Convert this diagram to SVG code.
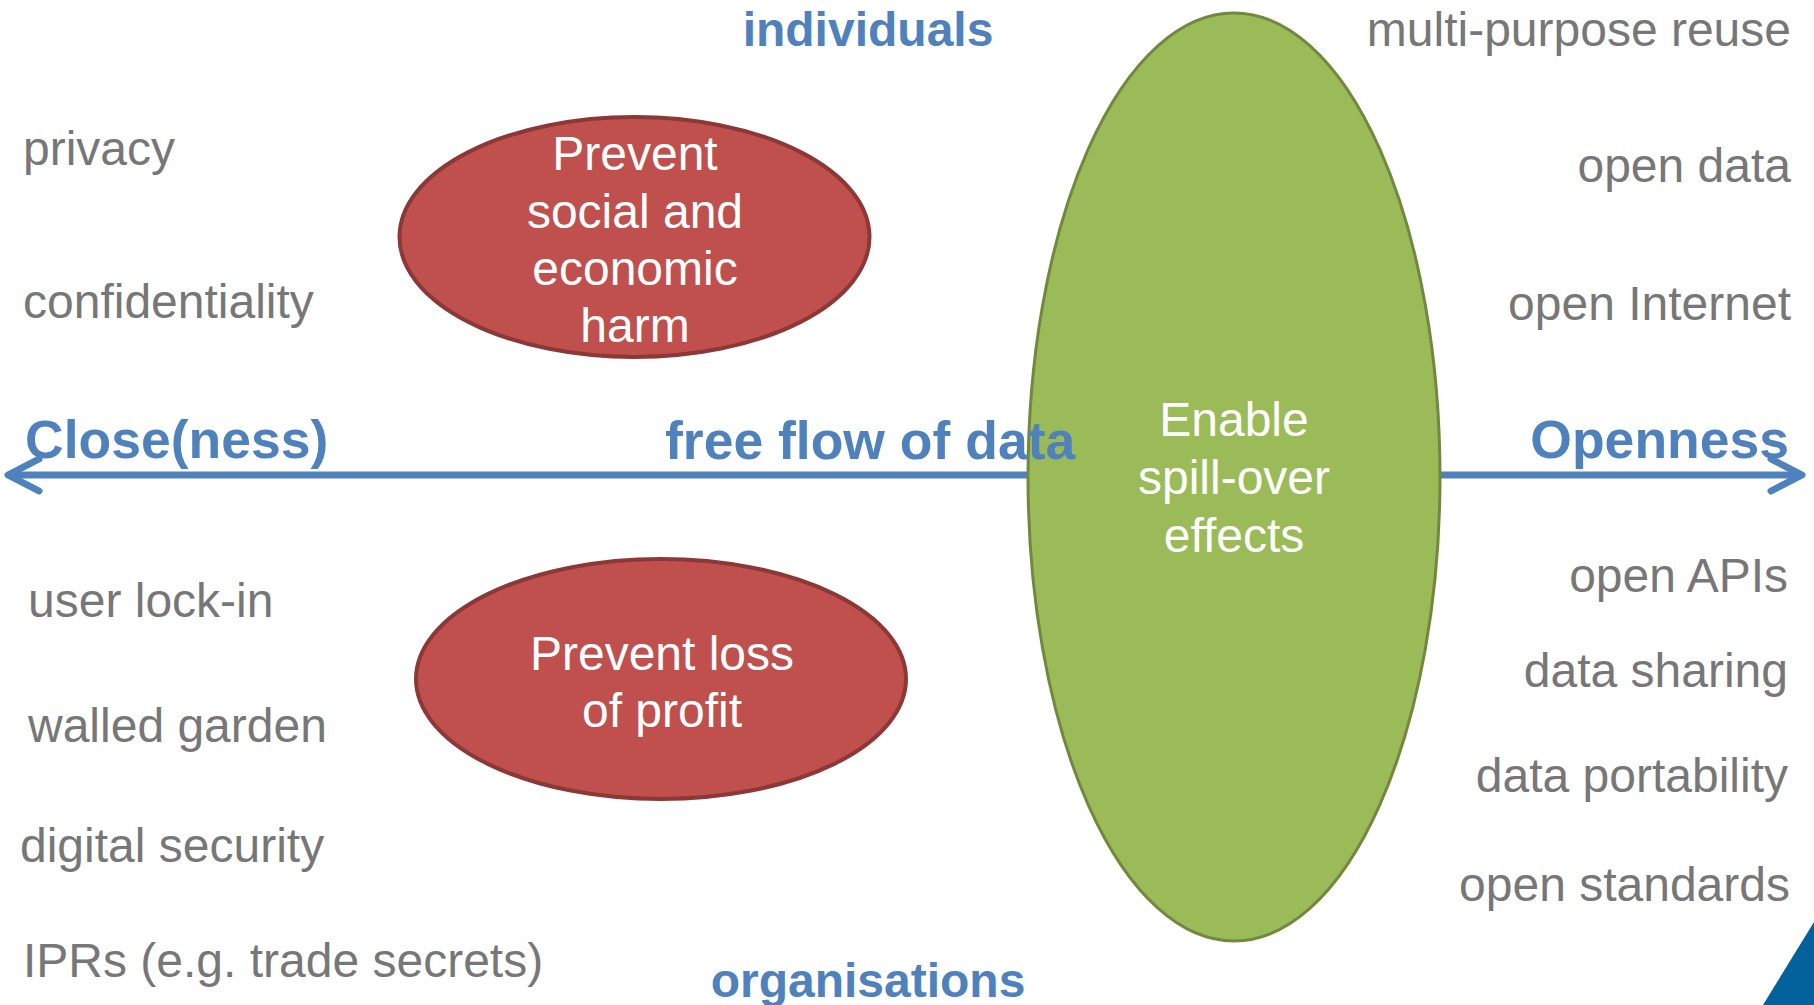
<svg xmlns="http://www.w3.org/2000/svg" width="1814" height="1005" viewBox="0 0 1814 1005">
<style>
.g{font-family:"Liberation Sans",Arial,sans-serif;font-size:48px;fill:#777777}
.w{font-family:"Liberation Sans",Arial,sans-serif;font-size:48px;fill:#ffffff;text-anchor:middle}
.b{font-family:"Liberation Sans",Arial,sans-serif;font-weight:bold;fill:#4f81bd}
.ax{font-size:53.5px}
.sm{font-size:48px;text-anchor:middle}
.r{text-anchor:end}
.red{fill:#c0504d;stroke:#8c3836;stroke-width:4}
.grn{fill:#9bbb59;stroke:#71893f;stroke-width:3}
.arr{fill:none;stroke:#4f81bd;stroke-width:7;stroke-linecap:round;stroke-linejoin:round}
</style>
<rect width="1814" height="1005" fill="#ffffff"/>
<g id="connectors">
<line class="arr" x1="10" y1="475" x2="1799" y2="475"/>
<polyline class="arr" points="39,459 8,475 39,491"/>
<polyline class="arr" points="1771,459 1802,475 1771,491"/>
</g>
<g id="node-harm">
<ellipse class="red" cx="634.5" cy="237" rx="235" ry="120"/>
<text class="w" x="635" y="170">Prevent</text>
<text class="w" x="635" y="228">social and</text>
<text class="w" x="635" y="285">economic</text>
<text class="w" x="635" y="342">harm</text>
</g>
<g id="node-profit">
<ellipse class="red" cx="661" cy="679" rx="245" ry="120"/>
<text class="w" x="662" y="670">Prevent loss</text>
<text class="w" x="662" y="727">of profit</text>
</g>
<g id="node-spill">
<ellipse class="grn" cx="1234" cy="477" rx="206" ry="464"/>
<text class="w" x="1234" y="436">Enable</text>
<text class="w" x="1234" y="494">spill-over</text>
<text class="w" x="1234" y="552">effects</text>
</g>
<g id="axis-labels">
<text class="b ax" x="25" y="458">Close(ness)</text>
<text class="b ax" x="665" y="459">free flow of data</text>
<text class="b ax r" x="1789" y="458">Openness</text>
<text class="b sm" x="868" y="46">individuals</text>
<text class="b sm" x="868" y="997">organisations</text>
</g>
<g id="left-labels">
<text class="g" x="23" y="165">privacy</text>
<text class="g" x="23" y="318">confidentiality</text>
<text class="g" x="28" y="617">user lock-in</text>
<text class="g" x="28" y="742">walled garden</text>
<text class="g" x="20" y="862">digital security</text>
<text class="g" x="23" y="977">IPRs (e.g. trade secrets)</text>
</g>
<g id="right-labels">
<text class="g r" x="1791" y="46">multi-purpose reuse</text>
<text class="g r" x="1791" y="182">open data</text>
<text class="g r" x="1791" y="320">open Internet</text>
<text class="g r" x="1788" y="592">open APIs</text>
<text class="g r" x="1788" y="687">data sharing</text>
<text class="g r" x="1788" y="792">data portability</text>
<text class="g r" x="1790" y="901">open standards</text>
</g>
<polygon id="corner" points="1814,922 1814,1005 1763,1005" fill="#03629c"/>
</svg>
